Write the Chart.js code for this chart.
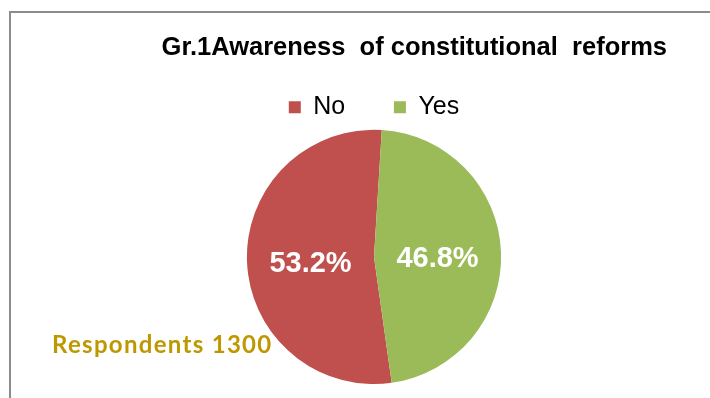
<!DOCTYPE html>
<html>
<head>
<meta charset="utf-8">
<title>Awareness of constitutional reforms</title>
<script src="https://cdn.jsdelivr.net/npm/chart.js@4.4.1/dist/chart.umd.min.js"></script>
<style>
  body { margin: 0; background: #fff; }
  canvas { display: block; }
</style>
</head>
<body>
<canvas id="awarenessChart" width="710" height="398"></canvas>
<script>
'use strict';

let answerLabels = ['No', 'Yes'];
let answerShares = [53.2, 46.8];
let answerColors = ['#c0504d', '#9bbb59'];
let chartTitle = 'Gr.1Awareness  of constitutional  reforms';
let respondentsNote = 'Respondents 1300';

let baseFont = '"Liberation Sans", Arial, sans-serif';

// grey frame line along top and left edge
let framePlugin = {
  id: 'frame',
  beforeDraw(chart) {
    let ctx = chart.ctx;
    ctx.save();
    ctx.strokeStyle = '#8c8c8c';
    ctx.lineWidth = 2;
    ctx.strokeRect(10, 12, chart.width, chart.height);
    ctx.restore();
  }
};

// percentage written inside each slice
let sliceLabelPlugin = {
  id: 'sliceLabels',
  afterDatasetsDraw(chart) {
    let ctx = chart.ctx;
    let meta = chart.getDatasetMeta(0);
    ctx.save();
    ctx.font = 'bold 29px ' + baseFont;
    ctx.fillStyle = '#ffffff';
    ctx.textAlign = 'center';
    ctx.textBaseline = 'middle';
    meta.data.forEach(function(arc, i) {
      let mid = (arc.startAngle + arc.endAngle) / 2;
      let r = arc.outerRadius * 0.5;
      let x = arc.x + Math.cos(mid) * r;
      let y = arc.y + Math.sin(mid) * r + 5;
      ctx.fillText(answerShares[i].toFixed(1) + '%', x, y);
    });
    ctx.restore();
  }
};

// sample size note, bottom left
let notePlugin = {
  id: 'respondents',
  afterDraw(chart) {
    let ctx = chart.ctx;
    ctx.save();
    ctx.font = 'bold 24px Lato, "Open Sans", sans-serif';
    ctx.letterSpacing = '1.3px';
    ctx.fillStyle = '#be9800';
    ctx.textAlign = 'left';
    ctx.textBaseline = 'alphabetic';
    ctx.fillText(respondentsNote, 52, 353);
    ctx.restore();
  }
};

new Chart(document.getElementById('awarenessChart'), {
  type: 'pie',
  data: {
    labels: answerLabels,
    datasets: [{
      data: answerShares,
      backgroundColor: answerColors,
      borderWidth: 0
    }]
  },
  options: {
    responsive: false,
    animation: false,
    rotation: 172,
    layout: {
      padding: { top: 12, left: 81, right: 43, bottom: 14 }
    },
    plugins: {
      title: {
        display: true,
        text: chartTitle,
        align: 'end',
        color: '#000000',
        font: { family: baseFont, size: 25.5, weight: 'bold' },
        padding: { top: 20.6, bottom: 24.6 }
      },
      legend: {
        position: 'top',
        labels: {
          boxWidth: 12,
          boxHeight: 12,
          padding: 7,
          color: '#000000',
          font: { family: baseFont, size: 25 },
          generateLabels: function(chart) {
            let items = Chart.overrides.pie.plugins.legend.labels.generateLabels(chart);
            // wider gap between legend entries
            items.forEach(function(item, i) {
              if (i < items.length - 1) {
                item.text = item.text + '      ';
              }
            });
            return items;
          }
        }
      },
      tooltip: { enabled: false }
    }
  },
  plugins: [framePlugin, sliceLabelPlugin, notePlugin]
});
</script>
</body>
</html>
